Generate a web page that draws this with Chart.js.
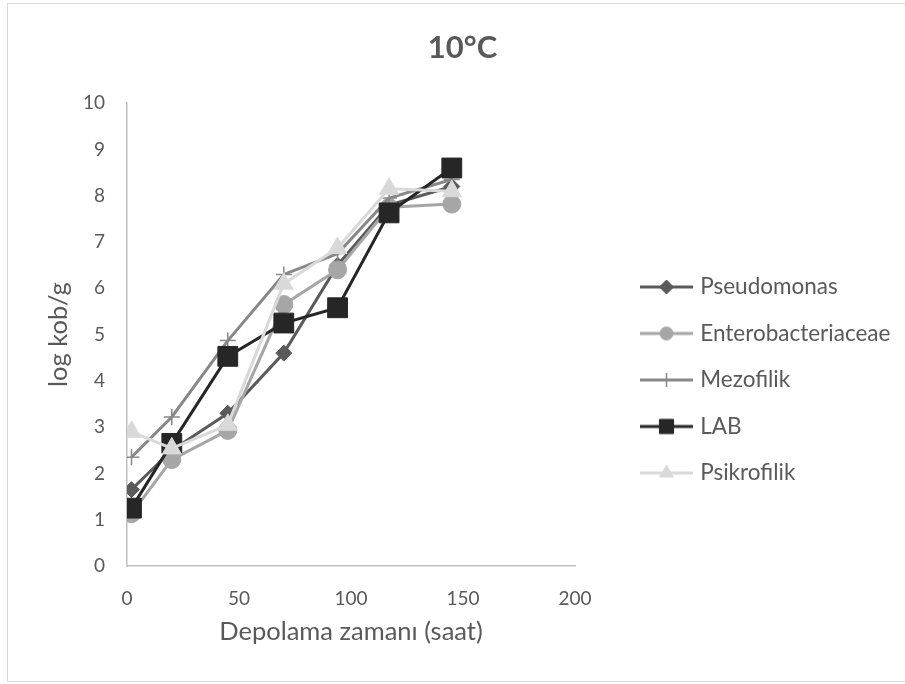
<!DOCTYPE html>
<html>
<head>
<meta charset="utf-8">
<script src="https://cdn.jsdelivr.net/npm/chart.js@4.4.1/dist/chart.umd.min.js"></script>
<style>
  html, body { margin: 0; padding: 0; background: #ffffff; }
  #wrap { position: relative; width: 905px; height: 684px; }
  #frame { position: absolute; left: 7px; top: 3px; width: 905px; height: 679px;
           border-left: 1px solid #d9d9d9; border-top: 1px solid #d9d9d9; border-bottom: 1px solid #d9d9d9; box-sizing: border-box; }
  canvas { position: absolute; left: 0; top: 0; }
</style>
</head>
<body>
<div id="wrap">
  <div id="frame"></div>
  <canvas id="c" width="905" height="684"></canvas>
</div>
<script>
// ---- data ----
const titleText = '10°C';
const xTitle = 'Depolama zamanı (saat)';
const yTitle = 'log kob/g';
const hours = [2, 20, 45, 70, 94, 117, 145];
const seriesNames = ['Pseudomonas', 'Enterobacteriaceae', 'Mezofilik', 'LAB', 'Psikrofilik'];
const pseudomonas = [1.65, 2.5, 3.3, 4.6, 6.5, 7.8, 8.2];
const enterobacteriaceae = [1.13, 2.3, 2.93, 5.65, 6.4, 7.75, 7.82];
const mezofilik = [2.35, 3.22, 4.87, 6.3, 6.75, 7.95, 8.35];
const lab = [1.25, 2.65, 4.53, 5.25, 5.58, 7.63, 8.6];
const psikrofilik = [2.9, 2.54, 3.05, 6.1, 6.87, 8.15, 8.1];
const xTicks = [0, 50, 100, 150, 200];
const yTicks = [0, 1, 2, 3, 4, 5, 6, 7, 8, 9, 10];

const FONT = "Lato, 'Open Sans', sans-serif";
const TEXT = '#595959';
const LEGEND_W = 326;

const styles = [
  { color: '#5a5a5a', point: 'rectRot', r: 8, lr: 7 },
  { color: '#a6a6a6', point: 'circle', r: 9, lr: 6.5 },
  { color: '#888888', point: 'cross', r: 8, lr: 7, bw: 1.5 },
  { color: '#262626', point: 'rect', r: 14, lr: 10 },
  { color: '#d9d9d9', point: 'triangle', r: 11, lr: 8 }
];
const values = [pseudomonas, enterobacteriaceae, mezofilik, lab, psikrofilik];

function legendIcon(st) {
  const cv = document.createElement('canvas');
  cv.width = 100; cv.height = 30;
  const g = cv.getContext('2d');
  g.strokeStyle = st.color; g.fillStyle = st.color; g.lineWidth = 3;
  g.beginPath(); g.moveTo(46, 15); g.lineTo(99, 15); g.stroke();
  g.lineWidth = st.bw || 1;
  Chart.helpers.drawPoint(g, { pointStyle: st.point, radius: st.lr, borderWidth: st.bw || 1, rotation: 0 }, 72.5, 15);
  return cv;
}
const icons = styles.map(legendIcon);

const datasets = seriesNames.map((name, i) => ({
  label: name,
  data: hours.map((h, j) => ({ x: h, y: values[i][j] })),
  showLine: true,
  borderColor: styles[i].color,
  backgroundColor: styles[i].color,
  borderWidth: 3,
  pointStyle: styles[i].point,
  pointRadius: styles[i].r,
  pointHoverRadius: styles[i].r,
  pointBorderWidth: styles[i].bw || 1,
  pointBackgroundColor: styles[i].color,
  pointBorderColor: styles[i].color,
  tension: 0,
  order: seriesNames.length - i
}));

// keep the legend column at a fixed width (Chart.js caps side boxes otherwise)
const legendWidthPlugin = {
  id: 'legendWidth',
  afterInit(chart) {
    const lg = chart.legend;
    if (!lg) return;
    const fit = lg.fit.bind(lg);
    lg.fit = function () { fit(); this.width = LEGEND_W; };
  }
};

new Chart(document.getElementById('c'), {
  type: 'scatter',
  data: { datasets },
  plugins: [legendWidthPlugin],
  options: {
    responsive: false,
    animation: false,
    devicePixelRatio: 1,
    layout: { padding: { left: 24, right: 4, top: 3, bottom: 18 } },
    plugins: {
      tooltip: { enabled: false },
      title: {
        display: true, text: titleText, color: TEXT,
        font: { family: FONT, size: 31, weight: 'bold' },
        padding: { top: 26, bottom: 37 }
      },
      legend: {
        position: 'right',
        align: 'center',
        title: { display: true, text: '', font: { size: 10 }, padding: { top: 79, bottom: 0 } },
        labels: {
          usePointStyle: true,
          pointStyleWidth: 90,
          padding: 24,
          color: TEXT,
          font: { family: FONT, size: 22.5 },
          sort: (a, b) => a.datasetIndex - b.datasetIndex,
          generateLabels: (chart) => {
            const items = Chart.defaults.plugins.legend.labels.generateLabels(chart);
            items.forEach(it => { it.pointStyle = icons[it.datasetIndex]; it.fontColor = TEXT; });
            return items;
          }
        }
      }
    },
    scales: {
      x: {
        type: 'linear', min: 0, max: 200,
        afterFit: (s) => { s.height = 100; },
        afterBuildTicks: (s) => { s.ticks = xTicks.map(v => ({ value: v })); },
        grid: { display: false, drawTicks: false },
        border: { display: true, color: '#bfbfbf', width: 1.5 },
        ticks: { color: TEXT, padding: 21, font: { family: FONT, size: 19 } },
        title: { display: true, text: xTitle, color: TEXT, font: { family: FONT, size: 25.5 }, padding: { top: 0, bottom: 19 } }
      },
      y: {
        type: 'linear', min: 0, max: 10,
        afterFit: (s) => { s.width = 103; },
        afterBuildTicks: (s) => { s.ticks = yTicks.map(v => ({ value: v })); },
        grid: { display: false, drawTicks: false },
        border: { display: true, color: '#bfbfbf', width: 1.5 },
        ticks: { color: TEXT, padding: 22, font: { family: FONT, size: 19 } },
        title: { display: true, text: yTitle, color: TEXT, font: { family: FONT, size: 25.5 }, padding: { top: 19, bottom: 0 } }
      }
    }
  }
});
</script>
</body>
</html>
